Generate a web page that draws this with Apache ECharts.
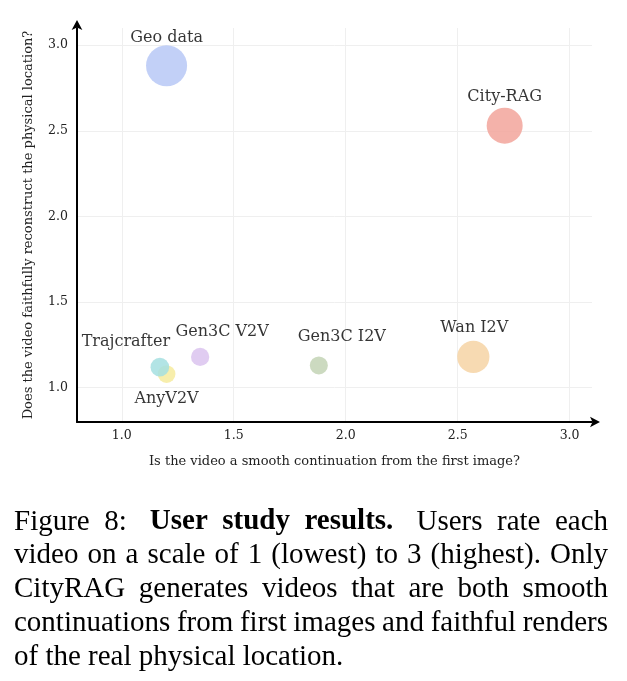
<!DOCTYPE html>
<html>
<head>
<meta charset="utf-8">
<script src="https://cdn.jsdelivr.net/npm/echarts@6/dist/echarts.min.js"></script>
<style>
html,body{margin:0;padding:0;background:#fff;}
#chart{width:627px;height:681px;}
</style>
</head>
<body>
<div id="chart"></div>
<script>
// ---- data ----
const methods = ['Geo data', 'City-RAG', 'Wan I2V', 'Gen3C I2V', 'Gen3C V2V', 'AnyV2V', 'Trajcrafter'];
const smoothness = [1.20, 2.71, 2.57, 1.88, 1.35, 1.20, 1.17];
const faithfulness = [2.88, 2.53, 1.18, 1.13, 1.18, 1.08, 1.12];
const weight = [5.2, 4.0, 3.2, 1.0, 1.03, 0.97, 1.07];
const xTicks = [1.0, 1.5, 2.0, 2.5, 3.0];
const yTicks = [1.0, 1.5, 2.0, 2.5, 3.0];
const xTitle = 'Is the video a smooth continuation from the first image?';
const yTitle = 'Does the video faithfully reconstruct the physical location?';
const captionLines = [
  [['Figure', 0], ['8:', 0], ['User', 1], ['study', 1], ['results.', 1], ['Users', 0], ['rate', 0], ['each', 0]],
  [['video', 0], ['on', 0], ['a', 0], ['scale', 0], ['of', 0], ['1', 0], ['(lowest)', 0], ['to', 0], ['3', 0], ['(highest).', 0], ['Only', 0]],
  [['CityRAG', 0], ['generates', 0], ['videos', 0], ['that', 0], ['are', 0], ['both', 0], ['smooth', 0]],
  [['continuations', 0], ['from', 0], ['first', 0], ['images', 0], ['and', 0], ['faithful', 0], ['renders', 0]],
  [['of', 0], ['the', 0], ['real', 0], ['physical', 0], ['location.', 0]]
];

// ---- styles ----
const colors = ['#b7c8f6', '#f2a59b', '#f6d3a4', '#c3d4b5', '#dbc3ee', '#f6eb9e', '#a4dfe0'];
const labelOffsets = [[0, -28], [0, -29], [1, -29], [23, -29], [22, -25], [0, 25], [-34, -25]];
const serif = 'DejaVu Serif';

const chart = echarts.init(document.getElementById('chart'), null, {renderer: 'canvas'});

const data = methods.map((m, i) => ({
  name: m,
  value: [smoothness[i], faithfulness[i], weight[i]],
  itemStyle: {color: colors[i], opacity: 0.85},
  label: {offset: labelOffsets[i]}
}));

// caption layout (justified)
const capFont = 29;
const capLeft = 14, capRight = 608, capTop = 524, capStep = 33.8;
const cv = document.createElement('canvas').getContext('2d');
function w(word, bold) {
  cv.font = (bold ? 'bold ' : '') + capFont + 'px "Liberation Serif"';
  return cv.measureText(word).width;
}
const graphics = [];
captionLines.forEach((line, li) => {
  const widths = line.map(([t, b]) => w(t, b));
  const total = widths.reduce((a, b) => a + b, 0);
  const last = li === captionLines.length - 1;
  const weights = line.slice(0, -1).map(([t]) => (li === 0 && /[.:]$/.test(t)) ? 1.6 : 1);
  const wsum = weights.reduce((a, b) => a + b, 0);
  const unit = last ? w(' ', 0) : (capRight - capLeft - total) / wsum;
  let x = capLeft;
  line.forEach(([t, b], k) => {
    graphics.push({
      type: 'text', left: x, top: capTop + li * capStep - capFont / 2 - 2,
      style: {text: t, font: (b ? 'bold ' : '') + capFont + 'px "Liberation Serif"', fill: '#000'}
    });
    x += widths[k] + (k < weights.length ? weights[k] * unit : 0);
  });
});

chart.setOption({
  animation: false,
  backgroundColor: '#fff',
  grid: {left: 77, right: 35, top: 28, bottom: 259, containLabel: false},
  xAxis: {
    type: 'value', min: 0.8, max: 3.1,
    name: xTitle, nameLocation: 'middle', nameGap: 33,
    nameTextStyle: {fontFamily: serif, fontSize: 13, color: '#222'},
    axisLine: {show: true, lineStyle: {color: '#000', width: 2}, symbol: ['none', 'arrow'], symbolSize: [8, 10], symbolOffset: [0, 8]},
    axisTick: {show: false, customValues: xTicks},
    axisLabel: {customValues: xTicks, fontFamily: serif, fontSize: 12.5, color: '#222', margin: 7,
      formatter: v => v.toFixed(1)},
    splitLine: {show: true, lineStyle: {color: '#efefef', width: 1}}
  },
  yAxis: {
    type: 'value', min: 0.8, max: 3.1,
    name: yTitle, nameLocation: 'middle', nameGap: 42, nameRotate: 90,
    nameTextStyle: {fontFamily: serif, fontSize: 13, color: '#222'},
    axisLine: {show: true, lineStyle: {color: '#000', width: 2}, symbol: ['none', 'arrow'], symbolSize: [8, 10], symbolOffset: [0, 8]},
    axisTick: {show: false, customValues: yTicks},
    axisLabel: {customValues: yTicks, fontFamily: serif, fontSize: 12.5, color: '#222', margin: 9,
      formatter: v => v.toFixed(1)},
    splitLine: {show: true, lineStyle: {color: '#efefef', width: 1}}
  },
  series: [{
    type: 'scatter',
    data: data,
    symbolSize: v => 18 * Math.sqrt(v[2]),
    label: {show: true, position: 'inside', formatter: p => p.name,
      fontFamily: serif, fontSize: 16, color: '#111'}
  }],
  graphic: graphics
});
</script>
</body>
</html>
